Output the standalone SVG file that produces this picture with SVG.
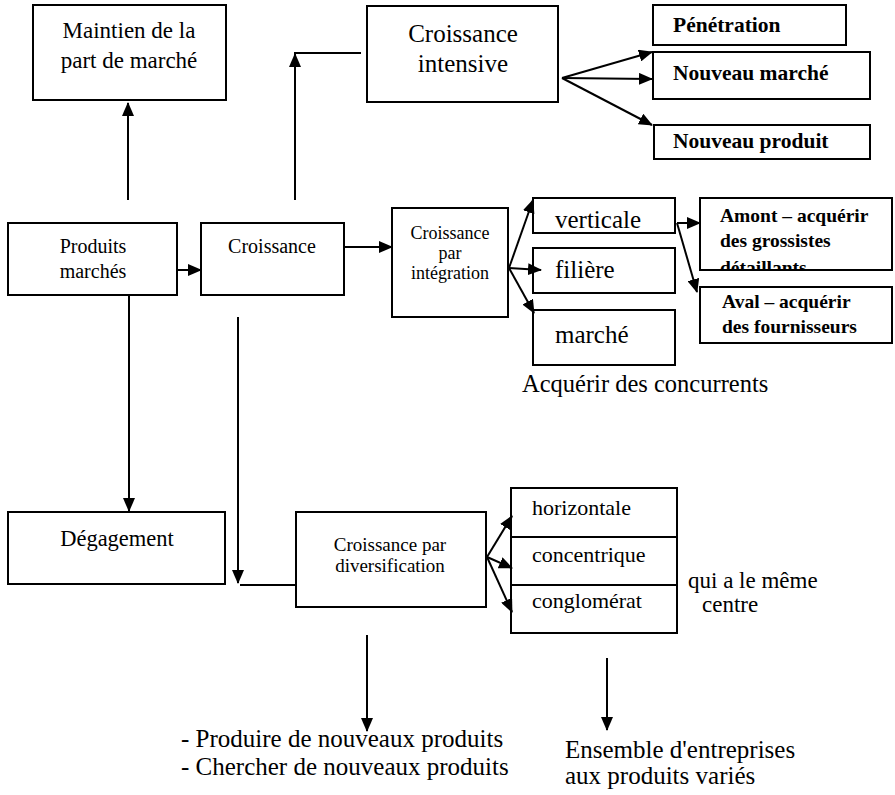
<svg xmlns="http://www.w3.org/2000/svg" width="895" height="795" viewBox="0 0 895 795">
<style>
.box{fill:none;stroke:#000;stroke-width:2}
.ln{fill:none;stroke:#000;stroke-width:2}
.ar{fill:none;stroke:#000;stroke-width:2;marker-end:url(#ah)}
text{font-family:"Liberation Serif","Times New Roman",serif;fill:#000}
.c{text-anchor:middle}
.b{font-weight:bold}
</style>
<defs>
<marker id="ah" markerUnits="userSpaceOnUse" markerWidth="14" markerHeight="12" refX="13" refY="6" orient="auto">
<path d="M0,0 L14,6 L0,12 z" fill="#000"/>
</marker>
<clipPath id="clipAmont"><rect x="700" y="198" width="192" height="71"/></clipPath>
</defs>
<rect width="895" height="795" fill="#fff"/>

<g id="maintien">
<rect class="box" x="33" y="5" width="193" height="95"/>
<text class="c" x="129" y="38" font-size="23">Maintien de la</text>
<text class="c" x="129" y="68" font-size="23">part de marché</text>
</g>

<g id="croissance-intensive">
<rect class="box" x="367" y="6" width="191" height="96"/>
<text class="c" x="463" y="42" font-size="25">Croissance</text>
<text class="c" x="463" y="72" font-size="25">intensive</text>
</g>

<g id="penetration">
<rect class="box" x="653" y="5" width="193" height="40"/>
<text class="b" x="673" y="32" font-size="21.5">Pénétration</text>
</g>
<g id="nouveau-marche">
<rect class="box" x="653" y="52" width="217" height="47"/>
<text class="b" x="673" y="80" font-size="21.5">Nouveau marché</text>
</g>
<g id="nouveau-produit">
<rect class="box" x="654" y="125" width="216" height="34"/>
<text class="b" x="673" y="148" font-size="21.5">Nouveau produit</text>
</g>

<g id="produits-marches">
<rect class="box" x="8" y="223" width="169" height="72"/>
<text class="c" x="93" y="253" font-size="20">Produits</text>
<text class="c" x="93" y="278" font-size="20">marchés</text>
</g>

<g id="croissance">
<rect class="box" x="201" y="223" width="143" height="72"/>
<text class="c" x="272" y="253" font-size="20">Croissance</text>
</g>

<g id="croissance-integration">
<rect class="box" x="392" y="208" width="116" height="109"/>
<text class="c" x="450" y="239" font-size="18">Croissance</text>
<text class="c" x="450" y="259" font-size="18">par</text>
<text class="c" x="450" y="279" font-size="18">intégration</text>
</g>

<g id="verticale">
<rect class="box" x="533" y="198" width="142" height="35"/>
<text x="555" y="228" font-size="25">verticale</text>
</g>
<g id="filiere">
<rect class="box" x="533" y="248" width="142" height="45"/>
<text x="555" y="278" font-size="25">filière</text>
</g>
<g id="marche">
<rect class="box" x="533" y="310" width="142" height="55"/>
<text x="555" y="343" font-size="25">marché</text>
</g>
<g id="acquerir-concurrents">
<text x="522" y="392" font-size="24.5">Acquérir des concurrents</text>
</g>

<g id="amont">
<rect class="box" x="700" y="198" width="192" height="72"/>
<g clip-path="url(#clipAmont)">
<text class="b" x="720" y="222" font-size="19.5">Amont – acquérir</text>
<text class="b" x="720" y="247" font-size="19.5">des grossistes</text>
<text class="b" x="720" y="274" font-size="19.5">détaillants</text>
</g>
</g>
<g id="aval">
<rect class="box" x="700" y="287" width="192" height="56"/>
<text class="b" x="722" y="308" font-size="19.5">Aval – acquérir</text>
<text class="b" x="722" y="333" font-size="19.5">des fournisseurs</text>
</g>

<g id="degagement">
<rect class="box" x="8" y="512" width="217" height="72"/>
<text class="c" x="117" y="546" font-size="22.5">Dégagement</text>
</g>

<g id="croissance-diversification">
<rect class="box" x="296" y="512" width="190" height="95"/>
<text class="c" x="390" y="551" font-size="19">Croissance par</text>
<text class="c" x="390" y="572" font-size="19">diversification</text>
</g>

<g id="diversification-types">
<rect class="box" x="511" y="488" width="166" height="145"/>
<line class="ln" x1="511" y1="537" x2="677" y2="537"/>
<line class="ln" x1="511" y1="585" x2="677" y2="585"/>
<text x="532" y="515" font-size="22">horizontale</text>
<text x="532" y="562" font-size="22">concentrique</text>
<text x="532" y="608" font-size="22">conglomérat</text>
</g>
<g id="meme-centre">
<text x="688" y="588" font-size="23">qui a le même</text>
<text x="702" y="612" font-size="23">centre</text>
</g>

<g id="nouveaux-produits">
<text x="181" y="747" font-size="25">- Produire de nouveaux produits</text>
<text x="181" y="775" font-size="25">- Chercher de nouveaux produits</text>
</g>
<g id="ensemble">
<text x="565" y="758" font-size="25">Ensemble d'entreprises</text>
<text x="565" y="784" font-size="25">aux produits variés</text>
</g>

<g id="connectors">
<line class="ar" x1="128" y1="200" x2="128" y2="103"/>
<line class="ar" x1="295" y1="200" x2="295" y2="54"/>
<line class="ln" x1="294" y1="53" x2="361" y2="53"/>
<line class="ar" x1="562" y1="78" x2="652" y2="52"/>
<line class="ar" x1="562" y1="78" x2="652" y2="79"/>
<line class="ar" x1="562" y1="78" x2="652" y2="125"/>
<line class="ar" x1="177" y1="270" x2="201" y2="270"/>
<line class="ar" x1="344" y1="247" x2="392" y2="247"/>
<line class="ar" x1="509" y1="268" x2="533" y2="200"/>
<line class="ar" x1="509" y1="268" x2="541" y2="270"/>
<line class="ar" x1="509" y1="268" x2="534" y2="313"/>
<line class="ar" x1="677" y1="223" x2="700" y2="223"/>
<line class="ar" x1="677" y1="223" x2="697" y2="292"/>
<line class="ar" x1="129" y1="295" x2="129" y2="511"/>
<line class="ar" x1="238" y1="317" x2="238" y2="583"/>
<line class="ln" x1="240" y1="585" x2="296" y2="585"/>
<line class="ar" x1="487" y1="557" x2="512" y2="516"/>
<line class="ar" x1="487" y1="557" x2="512" y2="568"/>
<line class="ar" x1="487" y1="557" x2="512" y2="612"/>
<line class="ar" x1="367" y1="635" x2="367" y2="731"/>
<line class="ar" x1="607" y1="658" x2="607" y2="730"/>
</g>
</svg>
